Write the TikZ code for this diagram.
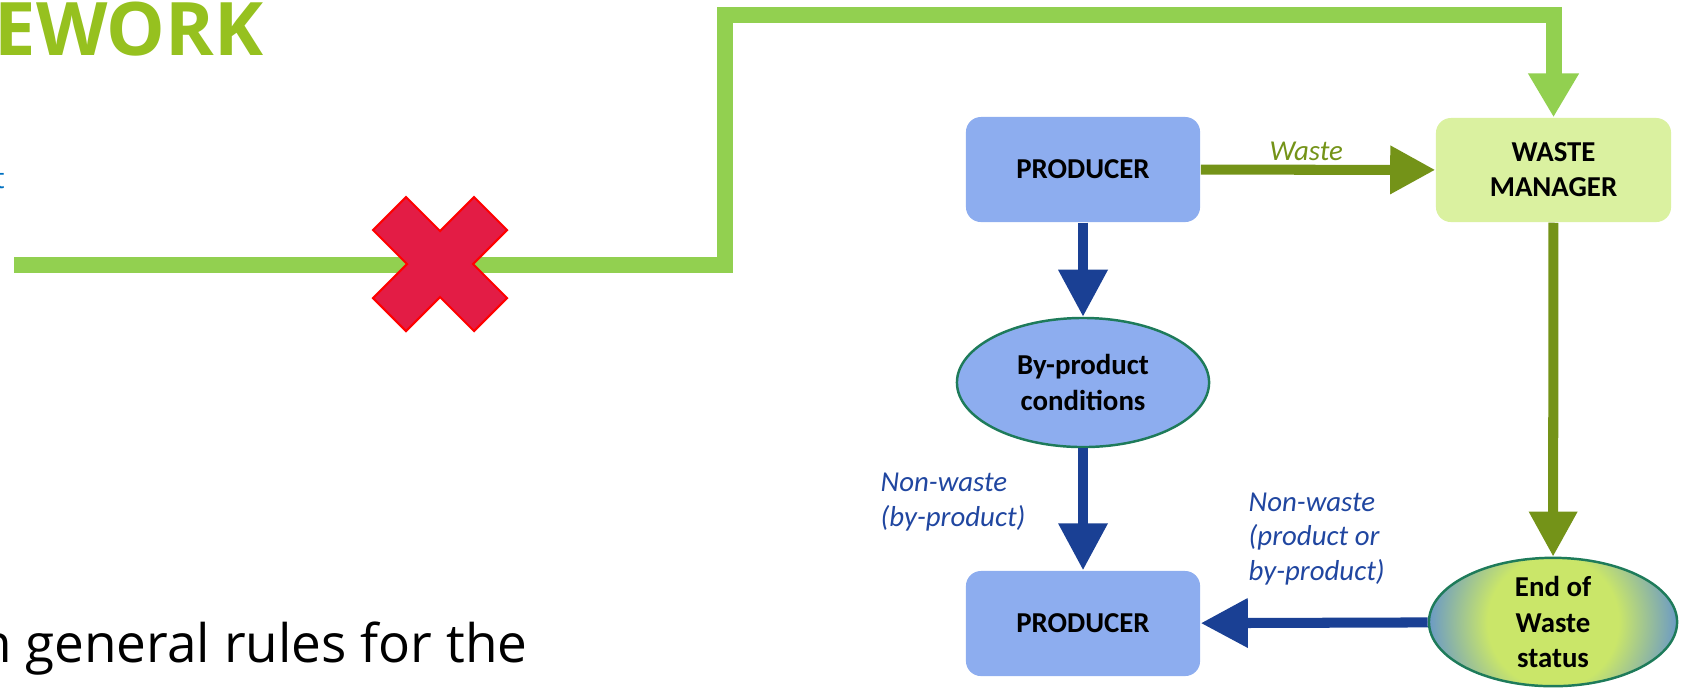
\documentclass[tikz,border=0pt]{standalone}
\usepackage{fontspec}
\setmainfont{Carlito}
\newfontfamily\opensans{Open Sans}
\usepackage{tikz}
\usetikzlibrary{shapes,arrows.meta,calc}

\definecolor{boxblue}{RGB}{141,173,239}
\definecolor{wmgreen}{RGB}{218,241,160}
\definecolor{wasteolive}{RGB}{116,147,24}
\definecolor{routegreen}{RGB}{146,208,80}
\definecolor{navyarrow}{RGB}{26,64,148}
\definecolor{lblblue}{RGB}{32,70,160}
\definecolor{ringgreen}{RGB}{30,123,90}
\definecolor{crossred}{RGB}{227,28,69}
\definecolor{titlegreen}{RGB}{150,193,31}
\definecolor{linkblue}{RGB}{0,112,192}
\definecolor{eowgreen}{RGB}{202,230,105}
\definecolor{eowblue}{RGB}{104,152,200}
\pgfdeclareradialshading{eowshading}{\pgfpointorigin}{color(0bp)=(eowgreen); color(13bp)=(eowgreen); color(25bp)=(eowblue); color(50bp)=(eowblue)}
\newcommand{\boxfont}{\bfseries\fontsize{8.2}{10}\selectfont}

\begin{document}
\begin{tikzpicture} [x = 0.01cm, y = -0.01cm,
     prodbox/.style = {rectangle, rounded corners=0.15cm, fill=boxblue, minimum width=2.34cm, minimum height=1.05cm, inner sep=0pt, align=center, font=\boxfont},
     wmbox/.style = {prodbox, fill=wmgreen, minimum width=2.35cm, minimum height=1.04cm},
     condell/.style = {ellipse, draw=ringgreen, line width=0.7pt, fill=boxblue, minimum width=2.52cm, minimum height=1.29cm, inner sep=0pt, align=center, font=\boxfont},
     eowell/.style = {condell, fill=none, minimum width=2.48cm, minimum height=1.26cm, path picture={\shade[shading=eowshading] (path picture bounding box.center) circle (1.26cm);}},
     flowlbl/.style = {inner sep=0pt, align=left, font=\itshape\fontsize{8.2}{9.8}\selectfont},
     bluearrow/.style = {draw=navyarrow, line width=2.85pt, -{Triangle[length=0.47cm, width=0.47cm]}},
     olivearrow/.style = {draw=wasteolive, line width=2.85pt, -{Triangle[length=0.45cm, width=0.46cm]}},
     routeline/.style = {draw=routegreen, line width=4.55pt, -{Triangle[length=0.44cm, width=0.48cm]}},
     crossx/.style = {draw=red, line width=0.6pt, fill=crossred}]
     \useasboundingbox (0,0) rectangle (1683,687);

     \node [anchor=base west, inner sep=0pt, text=titlegreen, font=\opensans\bfseries\fontsize{21}{25}\selectfont] (heading) at (-6,55) {EWORK};
     \node [anchor=base west, inner sep=0pt, text=linkblue, font=\opensans\fontsize{8}{10}\selectfont] (cutchar) at (-6,188) {t};
     \node [anchor=base west, inner sep=0pt, font=\opensans\fontsize{15.1}{19}\selectfont] (bodyline) at (-35,662) {in general rules for the};

     \node [prodbox] (prodtop) at (1083,169.5) {PRODUCER};
     \node [wmbox] (wm) at (1553.5,170) {WASTE\\MANAGER};
     \node [condell] (bycond) at (1083,382.5) {By-product\\conditions};
     \node [prodbox] (prodbot) at (1083,623.5) {PRODUCER};
     \node [eowell] (eow) at (1553,622) {End of\\Waste\\status};

     \coordinate (gstart) at (14,265);
     \coordinate (gbend) at (725,15);
     \coordinate (xmark) at (440,264);
     \draw [routeline] (gstart) -| (gbend) -| (wm.north);
     \draw [crossx, shift={(xmark)}] (0,-33) -- (34,-67) -- (67,-34) -- (33,0) -- (67,34) -- (34,67) -- (0,33) -- (-34,67) -- (-67,34) -- (-33,0) -- (-67,-34) -- (-34,-67) -- cycle;

     \draw [olivearrow] (prodtop) -- node [flowlbl, text=wasteolive, pos=0.45, above=0.04cm] (wastelbl) {Waste} (wm);
     \draw [olivearrow] (wm) -- (eow);
     \draw [bluearrow] (prodtop) -- (bycond);
     \draw [bluearrow] (bycond) -- (prodbot);
     \draw [bluearrow] (eow) -- (prodbot);

     \node [flowlbl, text=lblblue, anchor=west] (nwby) at (880,502) {Non-waste\\(by-product)};
     \node [flowlbl, text=lblblue, anchor=west] (nwprod) at (1248,539) {Non-waste\\(product or\\by-product)};
\end{tikzpicture}
\end{document}
